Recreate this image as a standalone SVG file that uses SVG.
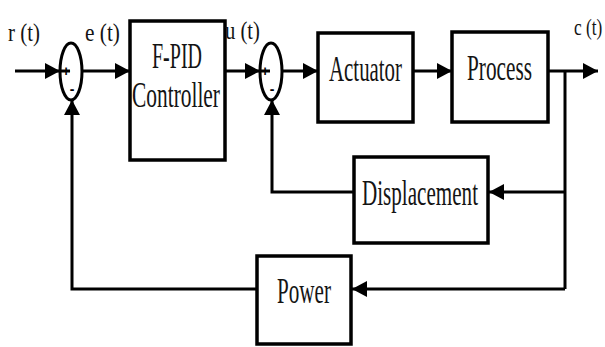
<svg xmlns="http://www.w3.org/2000/svg" width="605" height="347" viewBox="0 0 605 347">
<style>
.box{fill:#fff;stroke:#000;stroke-width:3.5}
.ln{fill:none;stroke:#000;stroke-width:3}
.ar{marker-end:url(#ah)}
.t{font-family:"Liberation Serif","Times New Roman",serif;fill:#141414}
.big{font-size:35px}
.lbl{font-size:26px}
.sg{font-family:"Liberation Sans",Arial,sans-serif;font-weight:bold;font-size:14px;fill:#000}
.sum{fill:#fff;stroke:#000;stroke-width:3}
</style>
<defs>
<marker id="ah" viewBox="0 0 15 16" refX="15" refY="8" markerWidth="15" markerHeight="16" markerUnits="userSpaceOnUse" orient="auto">
<path d="M0,0 L15,8 L0,16 z" fill="#000"/>
</marker>
</defs>
<rect width="605" height="347" fill="#fff"/>
<g id="connectors">
<line class="ln ar" x1="15" y1="71" x2="60" y2="71"/>
<line class="ln ar" x1="82" y1="71" x2="130" y2="71"/>
<line class="ln ar" x1="225" y1="71" x2="260" y2="71"/>
<line class="ln ar" x1="282" y1="71" x2="318" y2="71"/>
<line class="ln ar" x1="413" y1="71" x2="452" y2="71"/>
<line class="ln ar" x1="548" y1="71" x2="598" y2="71"/>
<polyline class="ln" points="565,71 565,289"/>
<line class="ln ar" x1="565" y1="192" x2="489" y2="192"/>
<line class="ln ar" x1="565" y1="289" x2="352" y2="289"/>
<polyline class="ln ar" points="354,192 272,192 272,100"/>
<polyline class="ln ar" points="257,289 72,289 72,100"/>
</g>
<g id="sum1">
<ellipse class="sum" cx="71" cy="71.5" rx="11" ry="28.5"/>
<line class="ln" x1="60" y1="71" x2="70" y2="71"/>
<text class="sg" x="66" y="76" text-anchor="middle">+</text>
<text class="sg" x="72" y="94" text-anchor="middle">-</text>
</g>
<g id="sum2">
<ellipse class="sum" cx="271" cy="71.5" rx="11" ry="28.5"/>
<line class="ln" x1="260" y1="71" x2="270" y2="71"/>
<text class="sg" x="265" y="76" text-anchor="middle">+</text>
<text class="sg" x="272" y="94" text-anchor="middle">-</text>
</g>
<g id="fpid">
<rect class="box" x="130" y="21" width="95" height="139"/>
<text class="t big" x="152" y="68" textLength="50" lengthAdjust="spacingAndGlyphs">F-PID</text>
<text class="t big" x="132" y="107" textLength="88" lengthAdjust="spacingAndGlyphs">Controller</text>
</g>
<g id="actuator">
<rect class="box" x="318" y="33" width="95" height="89"/>
<text class="t big" x="329" y="81" textLength="73" lengthAdjust="spacingAndGlyphs">Actuator</text>
</g>
<g id="process">
<rect class="box" x="452" y="32" width="96" height="90"/>
<text class="t big" x="467" y="80" textLength="65" lengthAdjust="spacingAndGlyphs">Process</text>
</g>
<g id="displacement">
<rect class="box" x="354" y="157" width="134" height="86"/>
<text class="t big" x="362" y="205" textLength="116" lengthAdjust="spacingAndGlyphs">Displacement</text>
</g>
<g id="power">
<rect class="box" x="257" y="256" width="94" height="88"/>
<text class="t big" x="277" y="303" textLength="54" lengthAdjust="spacingAndGlyphs">Power</text>
</g>
<g id="labels">
<text class="t lbl" x="8" y="41" textLength="32" lengthAdjust="spacingAndGlyphs">r (t)</text>
<text class="t lbl" x="85" y="41" textLength="35" lengthAdjust="spacingAndGlyphs">e (t)</text>
<text class="t lbl" x="225" y="39" textLength="35" lengthAdjust="spacingAndGlyphs">u (t)</text>
<text class="t" style="font-size:24px" transform="translate(574,35) scale(0.72,1)" x="0" y="0">c (t)</text>
</g>
</svg>
